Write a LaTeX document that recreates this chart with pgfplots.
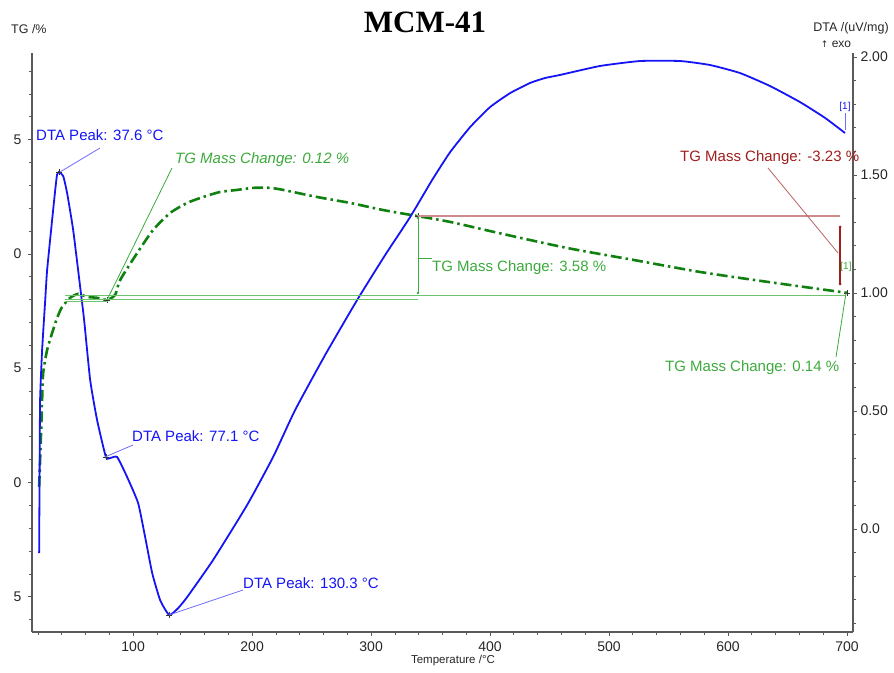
\documentclass[border=0pt]{standalone}
\usepackage{fontspec}
\setmainfont{Liberation Sans}
\newfontfamily\titlefont{Liberation Serif}
\newfontfamily\dejavu{DejaVu Sans}
\usepackage{pgfplots}
\pgfplotsset{compat=1.18}
\definecolor{dtablue}{RGB}{20,20,245}
\definecolor{leadblue}{RGB}{110,110,250}
\definecolor{tggreen}{RGB}{16,128,16}
\definecolor{anngreen}{RGB}{60,170,60}
\definecolor{lgreen}{RGB}{110,195,110}
\definecolor{annred}{RGB}{160,30,30}
\definecolor{lightred}{RGB}{205,140,140}
\definecolor{axgray}{RGB}{90,90,90}
\pgfplotsset{
  base/.style={
    scale only axis, width=821pt, height=579pt,
    at={(32pt,40pt)}, anchor=south west,
    xmin=15, xmax=705,
    xtick={100,200,...,700}, minor xtick={20,40,...,700},
    tick align=outside, major tick length=4pt, minor tick length=3pt,
    tick style={axgray, line width=0.8pt},
    axis line style={axgray, line width=1.2pt, -},
    every outer x axis line/.append style={-},
    every outer y axis line/.append style={-},
    every inner x axis line/.append style={-},
    every inner y axis line/.append style={-},
    ticklabel style={font=\fontsize{14}{14}\selectfont, text=black!85},
    /pgf/number format/assume math mode=true,
  }
}
\begin{document}
\begin{tikzpicture}
\useasboundingbox (0,0) rectangle (894pt,672pt);
% ---------- TG axis (left) ----------
\begin{axis}[base,
  axis x line*=bottom, axis y line*=left,
  ymin=83.46, ymax=108.79,
  ytick={85,90,95,100,105}, yticklabels={5,0,5,0,5},
  minor ytick={84,86,87,88,89,91,92,93,94,96,97,98,99,101,102,103,104,106,107,108},
  xticklabel style={yshift=-2pt},
  yticklabel style={xshift=-3pt},
]
\addplot[tggreen, line width=2.6pt, dash pattern=on 11pt off 4pt on 2.5pt off 4pt, smooth, tension=0.4] coordinates {
(21.0,89.81) (22.7,92.30) (23.5,93.61) (24.4,94.79) (27.7,95.80) (31.9,96.54)
(36.1,97.20) (40.3,97.68) (47.1,98.08) (53.8,98.25) (61.3,98.12) (69.7,98.08)
(78.2,97.99) (84.9,98.21) (89.1,98.86) (103.4,100.04) (116.8,101.05) (131.1,101.79)
(145.4,102.23) (158.8,102.49) (173.1,102.71) (187.4,102.80) (200.8,102.89) (215.1,102.89)
(226.1,102.80) (254.6,102.49) (282.4,102.23) (310.1,101.92) (332.8,101.71) (366.4,101.40)
(408.4,100.90) (464.7,100.26) (520.2,99.74) (576.5,99.21) (632.8,98.78) (694.1,98.34) (700,98.30)
};
\addplot[only marks, mark=+, mark size=3pt, black!80] coordinates {(78.2,97.99) (339.5,101.65) (700,98.30)};
\end{axis}
% ---------- DTA axis (right) ----------
\begin{axis}[base,
  axis x line=none, axis y line*=right,
  ymin=-0.436, ymax=2.017,
  ytick={0,0.5,1,1.5,2}, yticklabels={0.0,0.50,1.00,1.50,2.00},
  minor ytick={-0.4,-0.3,-0.2,-0.1,0.1,0.2,0.3,0.4,0.6,0.7,0.8,0.9,1.1,1.2,1.3,1.4,1.6,1.7,1.8,1.9},
]
\addplot[dtablue, line width=1.8pt, smooth, tension=0.3] coordinates {
(21.0,-0.102) (21.4,0.250) (21.8,0.547) (23.5,0.758) (26.1,0.970) (27.7,1.097)
(31.9,1.309) (34.5,1.436) (36.0,1.500) (37.6,1.513) (41.2,1.496) (44.5,1.424)
(49.6,1.267) (55.5,1.025) (58.8,0.886) (63.9,0.631) (69.7,0.462) (77.1,0.305)
(80.7,0.301) (86.6,0.305) (95.0,0.220) (104.2,0.110) (110.1,-0.034) (116.0,-0.186)
(122.7,-0.301) (130.3,-0.364) (137.8,-0.335) (145.4,-0.288) (167.2,-0.131) (195.8,0.102)
(217.6,0.305) (236.1,0.504) (261.3,0.737) (288.2,0.970) (311.8,1.161) (332.8,1.322)
(351.3,1.479) (366.4,1.597) (383.2,1.703) (400.0,1.788) (416.8,1.847) (433.6,1.890)
(446.2,1.911) (458.8,1.924) (492.4,1.962) (526.1,1.983) (559.7,1.983) (584.9,1.966)
(610.1,1.932) (635.3,1.877) (660.5,1.809) (681.5,1.742) (698.3,1.678)
};
\addplot[only marks, mark=+, mark size=3pt, black!80] coordinates {(37.6,1.513) (77.1,0.305) (130.3,-0.364)};
\end{axis}
% ---------- annotations ----------
\fontsize{15}{15}\selectfont
% DTA peaks
\draw[leadblue, line width=0.8pt] (60pt,500pt) -- (100pt,524pt);
\node[anchor=west, text=dtablue, inner sep=0pt] at (36pt,537pt) {DTA Peak: 37.6 °C};
\draw[leadblue, line width=0.8pt] (105pt,215pt) -- (133pt,227pt);
\node[anchor=west, text=dtablue, inner sep=0pt] at (132pt,236pt) {DTA Peak: 77.1 °C};
\draw[leadblue, line width=0.8pt] (169pt,57pt) -- (243pt,82pt);
\node[anchor=west, text=dtablue, inner sep=0pt] at (243pt,89pt) {DTA Peak: 130.3 °C};
% green baseline lines
\draw[lgreen, line width=1pt] (65pt,376pt) -- (845pt,376pt);
\draw[lgreen, line width=1pt] (65pt,372pt) -- (418pt,372pt);
\draw[lgreen, line width=1pt] (65pt,370pt) -- (108pt,370pt);
% 0.12 %
\draw[anngreen, line width=0.8pt] (107pt,372pt) -- (172pt,504pt);
\node[anchor=west, text=anngreen, inner sep=0pt] at (175pt,512pt) {\itshape TG Mass Change: 0.12 \%};
% 3.58 %
\draw[anngreen, line width=0.8pt] (418pt,454pt) -- (418pt,379pt);
\fill[anngreen] (418pt,454pt) circle (1.3pt) (418pt,379pt) circle (1.3pt);
\draw[anngreen, line width=0.8pt] (418pt,414pt) -- (432pt,414pt);
\node[anchor=west, text=anngreen, inner sep=0pt] at (432pt,404pt) {TG Mass Change: 3.58 \%};
% -3.23 %
\draw[lightred, line width=1.5pt] (418pt,456pt) -- (840pt,456pt);
\draw[annred, line width=1.2pt] (840pt,445pt) -- (840pt,388pt);
\fill[annred] (840pt,445pt) circle (1.5pt) (840pt,388pt) circle (1.5pt);
\draw[annred!70, line width=0.8pt] (768pt,504pt) -- (838pt,419pt);
\node[anchor=west, text=annred, inner sep=0pt] at (680pt,514pt) {TG Mass Change: -3.23 \%};
% 0.14 %
\draw[anngreen, line width=0.8pt] (846pt,379pt) -- (836pt,315pt);
\node[anchor=west, text=anngreen, inner sep=0pt] at (665pt,304pt) {TG Mass Change: 0.14 \%};
\node[text=anngreen, inner sep=0pt, font=\fontsize{10}{10}\selectfont] at (846pt,405pt) {[1]};
\node[text=dtablue, inner sep=0pt, font=\fontsize{10}{10}\selectfont] at (845pt,565pt) {[1]};
\draw[leadblue, line width=0.8pt] (845pt,559pt) -- (845pt,542pt);
% titles
\node[font=\titlefont\bfseries\fontsize{31}{31}\selectfont, inner sep=0pt] at (425pt,650pt) {MCM-41};
\node[anchor=west, inner sep=0pt, font=\fontsize{12.5}{12.5}\selectfont, text=black!85] at (11pt,643pt) {TG /\%};
\node[inner sep=0pt, font=\fontsize{12.5}{12.5}\selectfont, text=black!85] at (851pt,644pt) {DTA /(uV/mg)};
\node[inner sep=0pt, font=\fontsize{12}{12}\selectfont, text=black!85] at (836pt,628pt) {{\dejavu\fontsize{9}{9}\selectfont ↑} exo};
\node[inner sep=0pt, font=\fontsize{11.5}{11.5}\selectfont, text=black!85] at (453pt,11pt) {Temperature /°C};
\end{tikzpicture}
\end{document}
